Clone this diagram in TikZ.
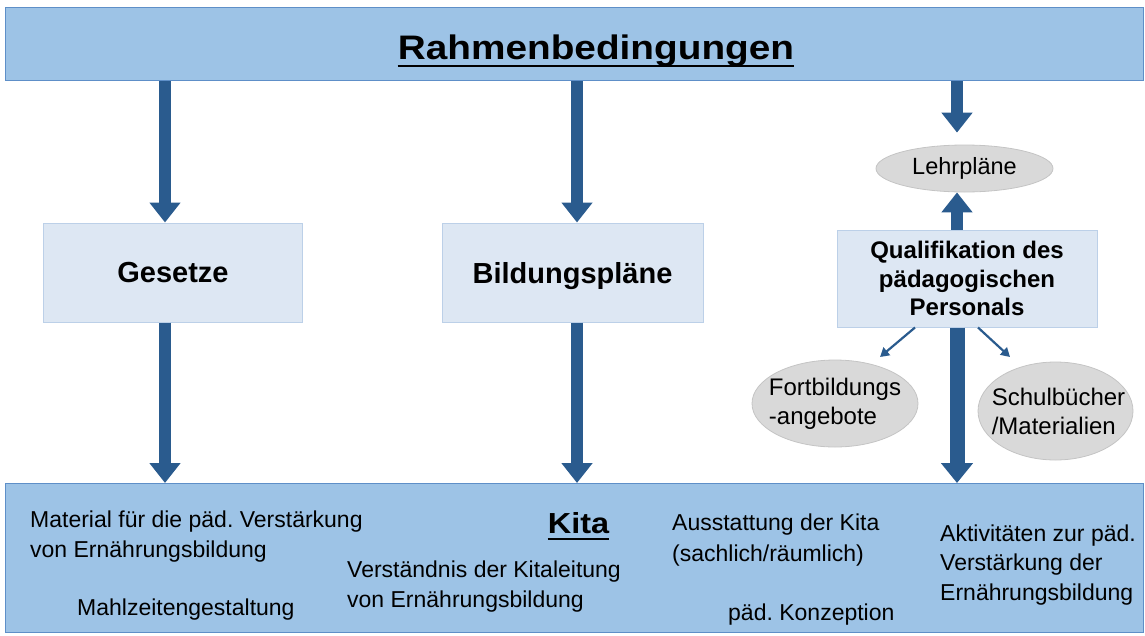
\documentclass[tikz,border=0pt]{standalone}
\usepackage{fontspec}
\setmainfont{Liberation Sans}
\usetikzlibrary{arrows.meta,shapes.geometric,calc}
\definecolor{bandfill}{HTML}{9DC3E6}
\definecolor{bandline}{HTML}{5E8FC8}
\definecolor{arrowblue}{HTML}{2A5B8E}
\definecolor{boxfill}{HTML}{DDE7F3}
\definecolor{boxline}{HTML}{BCD0E8}
\definecolor{ellfill}{HTML}{D9D9D9}
\definecolor{ellline}{HTML}{C4C4C4}
\frenchspacing
\begin{document}
\begin{tikzpicture}[x=1pt,y=-1pt,
  band/.style={draw=bandline, line width=1.2pt, fill=bandfill, inner sep=0pt, anchor=north west},
  lightbox/.style={draw=boxline, line width=1pt, fill=boxfill, inner sep=0pt, align=center,
    text depth=0pt, font=\bfseries\fontsize{29}{34}\selectfont},
  ell/.style={ellipse, draw=ellline, line width=0.8pt, fill=ellfill, inner sep=0pt},
  elltext/.style={inner sep=0pt, align=left, font=\fontsize{24}{29}\selectfont},
  bodytext/.style={inner sep=0pt, align=left, anchor=base west, font=\fontsize{23}{30}\selectfont},
  bigarrow/.style={draw=arrowblue, line width=12pt, -{Triangle[length=20pt,width=30pt]}},
  thinarrow/.style={draw=arrowblue, line width=2.2pt, -{Triangle[length=9pt,width=10pt]}},
  ulin/.style={line width=2.6pt, black}
]
\useasboundingbox (0,0) rectangle (1145,635);

% frames
\node[band, minimum width=1138pt, minimum height=73pt] (top) at (5,7) {};
\node[band, minimum width=1138pt, minimum height=149pt] (kita) at (5,483) {};

% title
\node[inner sep=0pt, anchor=base, font=\bfseries\fontsize{34}{40}\selectfont] (title) at (596,59)
  {\scalebox{1.14}[1]{Rahmenbedingungen}};
\draw[ulin] ([yshift=-7pt]title.base west) -- ([yshift=-7pt]title.base east);

% middle boxes
\node[lightbox, minimum width=259pt, minimum height=99pt] (ges) at (173,272.5) {Gesetze};
\node[lightbox, minimum width=261pt, minimum height=99pt] (bil) at (572.5,272.5) {Bildungspläne};
\node[lightbox, minimum width=260pt, minimum height=97pt, text depth=,
  font=\bfseries\fontsize{24}{28.5}\selectfont] (qual) at (967,278.5)
  {Qualifikation des\\pädagogischen\\Personals};

% ellipses
\node[ell, minimum width=177pt, minimum height=47pt] (leh) at (964.5,168.5) {};
\node[elltext, font=\fontsize{23.5}{29}\selectfont] (lehT) at (leh) {Lehrpläne};
\node[ell, minimum width=166pt, minimum height=87pt] (fb) at (835,403.5) {};
\node[elltext] (fbT) at (fb) {Fortbildungs\\-angebote};
\node[ell, minimum width=155pt, minimum height=98pt] (sb) at (1055.5,411) {};
\node[elltext] (sbT) at ([xshift=3pt]sb) {Schulbücher\\/Materialien};

% big arrows
\coordinate (lc) at (165,0);
\coordinate (mc) at (577,0);
\coordinate (rc) at (957,0);
\draw[bigarrow] (lc |- top.south) -- (lc |- ges.north);
\draw[bigarrow] (lc |- ges.south) -- (lc |- kita.north);
\draw[bigarrow] (mc |- top.south) -- (mc |- bil.north);
\draw[bigarrow] (mc |- bil.south) -- (mc |- kita.north);
\draw[bigarrow, shorten >=12pt] (rc |- top.south) -- (rc |- leh.north);
\draw[bigarrow] (rc |- qual.north) -- (rc |- leh.south);
\draw[bigarrow, line width=15pt, -{Triangle[length=20pt,width=31pt]}] (rc |- qual.south) -- (rc |- kita.north);

% thin arrows
\coordinate (fbtip) at (880,357);
\coordinate (sbtip) at (1010,357);
\draw[thinarrow] ([xshift=-52pt]qual.south) -- (fbtip);
\draw[thinarrow] ([xshift=11pt]qual.south) -- (sbtip);

% Kita texts (base anchor = baseline of the last line)
\node[inner sep=0pt, anchor=base, font=\bfseries\fontsize{29}{34}\selectfont] (kitaT) at (578.5,533)
  {\scalebox{1.12}[1]{Kita}};
\draw[ulin] ([yshift=-6pt]kitaT.base west) -- ([yshift=-6pt]kitaT.base east);
\node[bodytext] (t1) at (30,557) {Material für die päd. Verstärkung\\von Ernährungsbildung};
\node[bodytext] (t2) at (77,615) {Mahlzeitengestaltung};
\node[bodytext] (t3) at (347,607) {Verständnis der Kitaleitung\\von Ernährungsbildung};
\node[bodytext, font=\fontsize{23}{31.5}\selectfont] (t4) at (672,561.5) {Ausstattung der Kita\\(sachlich/räumlich)};
\node[bodytext] (t5) at (728,620) {päd. Konzeption};
\node[bodytext, font=\fontsize{23}{29.5}\selectfont] (t6) at (940,600) {Aktivitäten zur päd.\\Verstärkung der\\Ernährungsbildung};
\end{tikzpicture}
\end{document}
